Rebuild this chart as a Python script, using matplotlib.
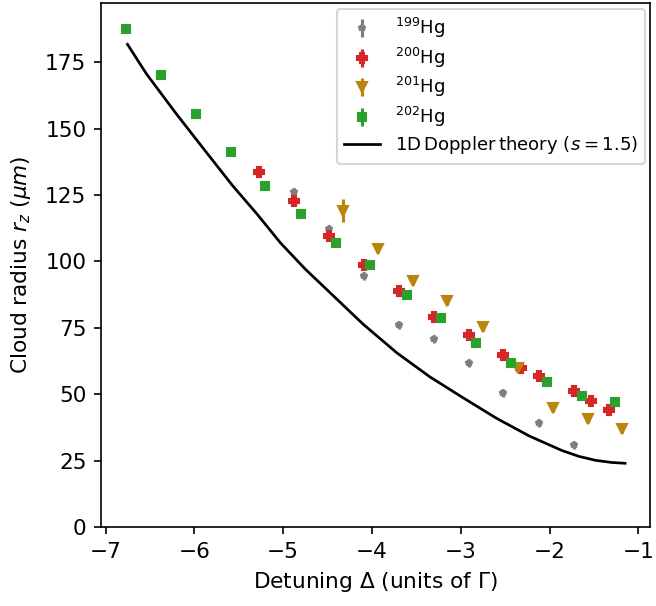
import numpy as np
import matplotlib
matplotlib.use("Agg")
import matplotlib.pyplot as plt

plt.rcParams['font.size'] = 10.4

# ---------------- data ----------------
# 199Hg
d199 = np.array([-4.875, -4.48, -4.09, -3.70, -3.30, -2.91, -2.52, -2.12, -1.73])
r199 = np.array([126.0, 112.1, 94.5, 76.1, 70.9, 61.7, 50.5, 39.0, 30.8])
e199 = np.array([1.5, 1.5, 1.5, 1.5, 1.5, 1.5, 1.5, 1.5, 1.5])

# 200Hg
d200 = np.array([-5.27, -4.875, -4.48, -4.09, -3.70, -3.30, -2.91, -2.52,
                 -2.32, -2.12, -1.73, -1.53, -1.33])
r200 = np.array([133.7, 122.6, 109.7, 98.5, 88.8, 79.1, 72.4, 64.7,
                 59.9, 56.8, 51.2, 47.5, 44.2])
e200 = np.full(len(d200), 1.5)

# 201Hg
d201 = np.array([-4.325, -3.93, -3.54, -3.15, -2.75, -2.36, -1.96, -1.57, -1.18])
r201 = np.array([119.2, 104.8, 92.6, 85.0, 75.3, 59.7, 45.0, 40.6, 36.8])
e201 = np.array([4.5, 1.5, 1.5, 1.5, 1.5, 1.5, 1.5, 1.5, 1.5])

# 202Hg
d202 = np.array([-6.77, -6.37, -5.98, -5.59, -5.20, -4.80, -4.41, -4.02,
                 -3.61, -3.22, -2.83, -2.43, -2.03, -1.64, -1.26])
r202 = np.array([187.6, 170.3, 155.6, 141.4, 128.6, 117.7, 106.8, 98.5,
                 87.2, 78.6, 69.2, 61.7, 54.5, 49.2, 47.0])
e202 = np.full(len(d202), 1.5)

# 1D Doppler theory curve
d_th = np.array([-6.753, -6.54, -6.205, -5.869, -5.57, -5.29, -5.03, -4.75,
                 -4.47, -4.10, -3.72, -3.35, -2.98, -2.60, -2.23, -1.86,
                 -1.67, -1.48, -1.30, -1.15])
r_th = np.array([181.8, 170.7, 155.7, 141.3, 128.6, 117.7, 107.0, 97.1,
                 88.2, 76.4, 65.6, 56.6, 48.8, 41.0, 34.3, 28.8,
                 26.6, 25.1, 24.3, 24.0])

# ---------------- plot ----------------
fig = plt.figure(figsize=(656 / 150, 606 / 150), dpi=150)
ax = fig.add_axes([101 / 656, 79 / 606, 549 / 656, 524 / 606])

h199 = ax.errorbar(d199, r199, yerr=e199, fmt='p', color='tab:gray', ms=2.9,
                   label=r'$^{199}$Hg')
h200 = ax.errorbar(d200, r200, yerr=e200, fmt='P', color='tab:red', ms=4.8,
                   label=r'$^{200}$Hg')
h201 = ax.errorbar(d201, r201, yerr=e201, fmt='v', color='darkgoldenrod', ms=4.8,
                   label=r'$^{201}$Hg')
h202 = ax.errorbar(d202, r202, yerr=e202, fmt='s', color='tab:green', ms=4.3,
                   label=r'$^{202}$Hg')
hth, = ax.plot(d_th, r_th, color='black', lw=1.3,
               label=r'$\mathrm{1D\,Doppler\,theory}\ (s=1.5)$')

ax.set_ylim(bottom=0)
ax.set_xlabel(r'Detuning $\Delta$ (units of $\Gamma$)')
ax.set_ylabel(r'Cloud radius $r_z$ ($\mu m$)', labelpad=6)
ax.legend(handles=[h199, h200, h201, h202, hth], loc='upper right',
          bbox_to_anchor=(0.991, 0.9885), borderaxespad=0, fontsize=8.7,
          labelspacing=0.3)

fig.savefig('out.png', dpi=150)
